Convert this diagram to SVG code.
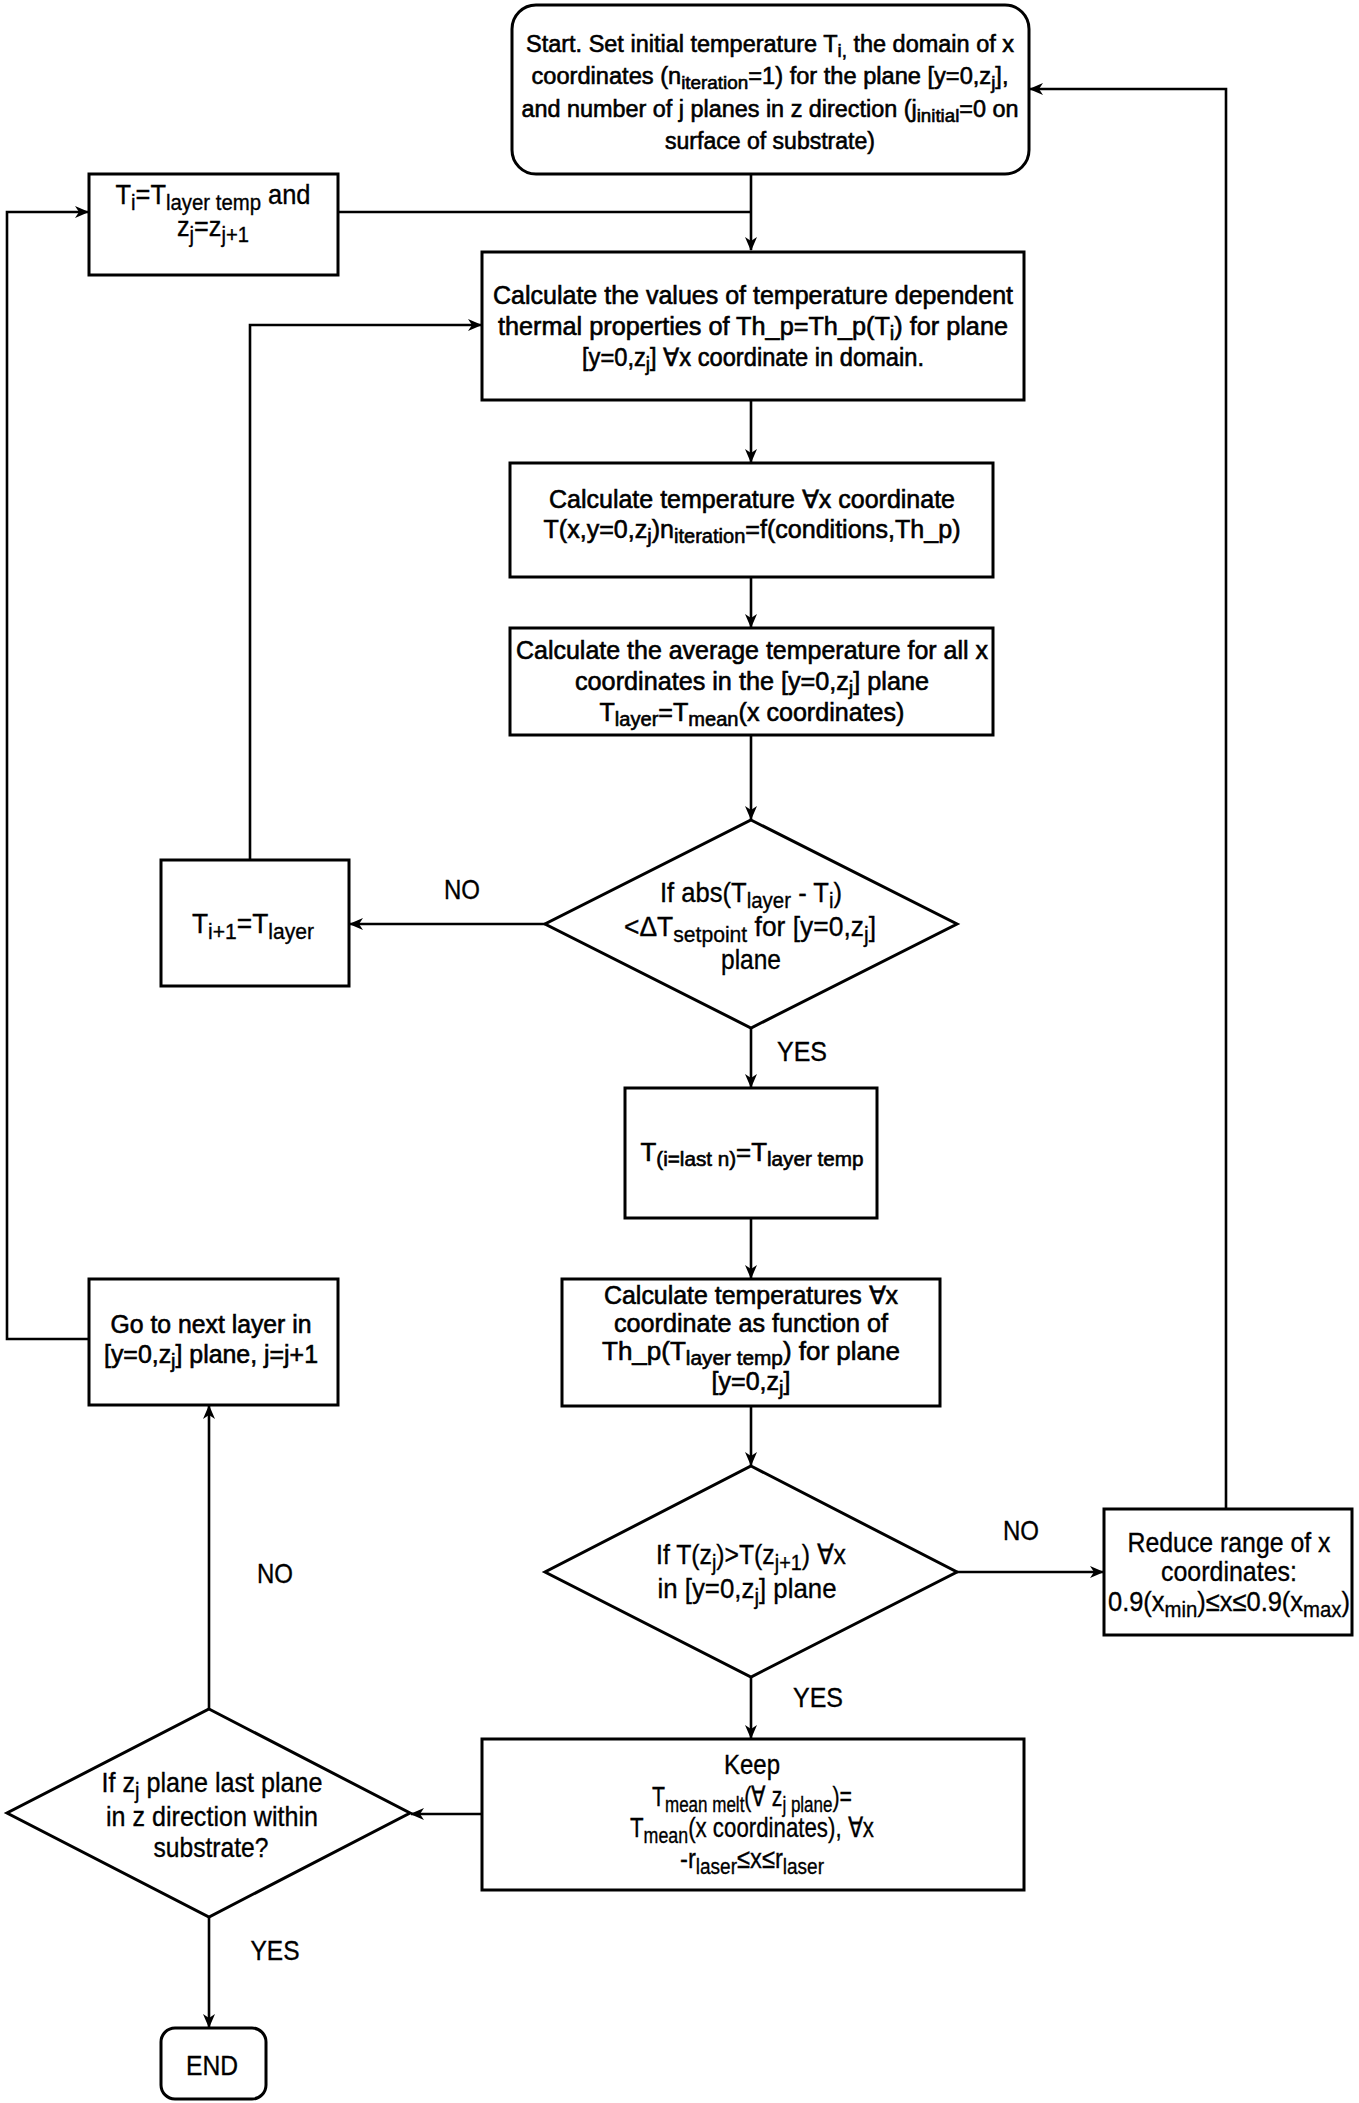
<svg xmlns="http://www.w3.org/2000/svg" width="1359" height="2103" viewBox="0 0 1359 2103">
<style>
.box{fill:#fff;stroke:#000;stroke-width:3}
.t{font-family:"Liberation Sans",Arial,sans-serif;font-size:25px;fill:#000;text-anchor:middle;stroke:#000;stroke-width:0.6}
.c{font-family:"Liberation Sans",Arial,sans-serif;font-size:28px;fill:#000;text-anchor:middle;stroke:#000;stroke-width:0.35}
.s{font-size:80%;baseline-shift:-25%}
.e{stroke:#000;stroke-width:2.6;fill:none}
</style>
<defs>
<marker id="ah" viewBox="0 0 14 12" refX="13" refY="6" markerWidth="14" markerHeight="12" markerUnits="userSpaceOnUse" orient="auto">
<path d="M0,0 L14,6 L0,12 L4,6 z" fill="#000"/>
</marker>
</defs>
<rect width="1359" height="2103" fill="#fff"/>
<g id="connectors">
<path class="e" d="M751,174 V250" marker-end="url(#ah)"/>
<path class="e" d="M338,212 H751"/>
<path class="e" d="M751,400 V462" marker-end="url(#ah)"/>
<path class="e" d="M751,577 V627" marker-end="url(#ah)"/>
<path class="e" d="M751,735 V819" marker-end="url(#ah)"/>
<path class="e" d="M545,924 H350" marker-end="url(#ah)"/>
<path class="e" d="M250,860 V325 H481" marker-end="url(#ah)"/>
<path class="e" d="M751,1028 V1087" marker-end="url(#ah)"/>
<path class="e" d="M751,1218 V1278" marker-end="url(#ah)"/>
<path class="e" d="M751,1406 V1465" marker-end="url(#ah)"/>
<path class="e" d="M957,1572 H1103" marker-end="url(#ah)"/>
<path class="e" d="M1226,1509 V89 H1030" marker-end="url(#ah)"/>
<path class="e" d="M751,1677 V1738" marker-end="url(#ah)"/>
<path class="e" d="M482,1814 H411" marker-end="url(#ah)"/>
<path class="e" d="M209,1709 V1406" marker-end="url(#ah)"/>
<path class="e" d="M89,1339 H7 V212 H88" marker-end="url(#ah)"/>
<path class="e" d="M209,1917 V2027" marker-end="url(#ah)"/>
<text class="c" x="462" y="899" textLength="36" lengthAdjust="spacingAndGlyphs">NO</text>
<text class="c" x="802" y="1061" textLength="50" lengthAdjust="spacingAndGlyphs">YES</text>
<text class="c" x="1021" y="1540" textLength="36" lengthAdjust="spacingAndGlyphs">NO</text>
<text class="c" x="818" y="1707" textLength="50" lengthAdjust="spacingAndGlyphs">YES</text>
<text class="c" x="275" y="1583" textLength="36" lengthAdjust="spacingAndGlyphs">NO</text>
<text class="c" x="275" y="1960" textLength="49" lengthAdjust="spacingAndGlyphs">YES</text>
</g>
<g id="start">
<rect class="box" x="512" y="5" width="517" height="169" rx="24"/>
<text class="t" x="770" y="52" style="font-size:23.5px" textLength="488" lengthAdjust="spacingAndGlyphs">Start. Set initial temperature T<tspan class="s">i,</tspan> the domain of x</text>
<text class="t" x="770" y="84" style="font-size:23.5px" textLength="477" lengthAdjust="spacingAndGlyphs">coordinates (n<tspan class="s">iteration</tspan>=1) for the plane [y=0,z<tspan class="s">j</tspan>],</text>
<text class="t" x="770" y="117" style="font-size:23.5px" textLength="497" lengthAdjust="spacingAndGlyphs">and number of j planes in z direction (j<tspan class="s">initial</tspan>=0 on</text>
<text class="t" x="770" y="149" style="font-size:23.5px" textLength="210" lengthAdjust="spacingAndGlyphs">surface of substrate)</text>
</g>
<g id="update-ti">
<rect class="box" x="89" y="174" width="249" height="101"/>
<text class="c" x="213" y="204" textLength="195" lengthAdjust="spacingAndGlyphs">T<tspan class="s">i</tspan>=T<tspan class="s">layer temp</tspan> and</text>
<text class="c" x="213" y="236" textLength="72" lengthAdjust="spacingAndGlyphs">z<tspan class="s">j</tspan>=z<tspan class="s">j+1</tspan></text>
</g>
<g id="calc-props">
<rect class="box" x="482" y="252" width="542" height="148"/>
<text class="t" x="753" y="304" textLength="520" lengthAdjust="spacingAndGlyphs">Calculate the values of temperature dependent</text>
<text class="t" x="753" y="335" textLength="510" lengthAdjust="spacingAndGlyphs">thermal properties of Th_p=Th_p(T<tspan class="s">i</tspan>) for plane</text>
<text class="t" x="753" y="366" textLength="342" lengthAdjust="spacingAndGlyphs">[y=0,z<tspan class="s">j</tspan>] ∀x coordinate in domain.</text>
</g>
<g id="calc-temp">
<rect class="box" x="510" y="463" width="483" height="114"/>
<text class="t" x="752" y="508" textLength="406" lengthAdjust="spacingAndGlyphs">Calculate temperature ∀x coordinate</text>
<text class="t" x="752" y="538" textLength="417" lengthAdjust="spacingAndGlyphs">T(x,y=0,z<tspan class="s">j</tspan>)n<tspan class="s">iteration</tspan>=f(conditions,Th_p)</text>
</g>
<g id="calc-avg">
<rect class="box" x="510" y="628" width="483" height="107"/>
<text class="t" x="752" y="659" textLength="472" lengthAdjust="spacingAndGlyphs">Calculate the average temperature for all x</text>
<text class="t" x="752" y="690" textLength="354" lengthAdjust="spacingAndGlyphs">coordinates in the [y=0,z<tspan class="s">j</tspan>] plane</text>
<text class="t" x="752" y="721" textLength="305" lengthAdjust="spacingAndGlyphs">T<tspan class="s">layer</tspan>=T<tspan class="s">mean</tspan>(x coordinates)</text>
</g>
<g id="check-conv">
<polygon class="box" points="751,820 957,924 751,1028 545,924"/>
<text class="c" x="751" y="902" textLength="182" lengthAdjust="spacingAndGlyphs">If abs(T<tspan class="s">layer</tspan> - T<tspan class="s">i</tspan>)</text>
<text class="c" x="750" y="936" textLength="252" lengthAdjust="spacingAndGlyphs">&lt;ΔT<tspan class="s">setpoint</tspan> for [y=0,z<tspan class="s">j</tspan>]</text>
<text class="c" x="751" y="969" textLength="60" lengthAdjust="spacingAndGlyphs">plane</text>
</g>
<g id="update-ti1">
<rect class="box" x="161" y="860" width="188" height="126"/>
<text class="c" x="253" y="933" textLength="122" lengthAdjust="spacingAndGlyphs">T<tspan class="s">i+1</tspan>=T<tspan class="s">layer</tspan></text>
</g>
<g id="set-layer-temp">
<rect class="box" x="625" y="1088" width="252" height="130"/>
<text class="t" x="752" y="1161" textLength="223" lengthAdjust="spacingAndGlyphs">T<tspan class="s">(i=last n)</tspan>=T<tspan class="s">layer temp</tspan></text>
</g>
<g id="calc-temps">
<rect class="box" x="562" y="1279" width="378" height="127"/>
<text class="t" x="751" y="1304" textLength="294" lengthAdjust="spacingAndGlyphs">Calculate temperatures ∀x</text>
<text class="t" x="751" y="1332" textLength="274" lengthAdjust="spacingAndGlyphs">coordinate as function of</text>
<text class="t" x="751" y="1360" textLength="298" lengthAdjust="spacingAndGlyphs">Th_p(T<tspan class="s">layer temp</tspan>) for plane</text>
<text class="t" x="751" y="1390">[y=0,z<tspan class="s">j</tspan>]</text>
</g>
<g id="check-profile">
<polygon class="box" points="751,1466 957,1572 751,1677 545,1572"/>
<text class="c" x="751" y="1564" textLength="190" lengthAdjust="spacingAndGlyphs">If T(z<tspan class="s">j</tspan>)&gt;T(z<tspan class="s">j+1</tspan>) ∀x</text>
<text class="c" x="747" y="1598" textLength="179" lengthAdjust="spacingAndGlyphs">in [y=0,z<tspan class="s">j</tspan>] plane</text>
</g>
<g id="reduce-range">
<rect class="box" x="1104" y="1509" width="248" height="126"/>
<text class="c" x="1229" y="1552" textLength="203" lengthAdjust="spacingAndGlyphs">Reduce range of x</text>
<text class="c" x="1229" y="1581" textLength="136" lengthAdjust="spacingAndGlyphs">coordinates:</text>
<text class="c" x="1229" y="1611" textLength="242" lengthAdjust="spacingAndGlyphs">0.9(x<tspan class="s">min</tspan>)≤x≤0.9(x<tspan class="s">max</tspan>)</text>
</g>
<g id="keep">
<rect class="box" x="482" y="1739" width="542" height="151"/>
<text class="c" x="752" y="1774" textLength="56" lengthAdjust="spacingAndGlyphs">Keep</text>
<text class="c" x="752" y="1806" textLength="200" lengthAdjust="spacingAndGlyphs">T<tspan class="s">mean melt</tspan>(∀ z<tspan class="s">j plane</tspan>)=</text>
<text class="c" x="752" y="1837" textLength="244" lengthAdjust="spacingAndGlyphs">T<tspan class="s">mean</tspan>(x coordinates), ∀x</text>
<text class="c" x="752" y="1868" textLength="144" lengthAdjust="spacingAndGlyphs">-r<tspan class="s">laser</tspan>≤x≤r<tspan class="s">laser</tspan></text>
</g>
<g id="check-last">
<polygon class="box" points="209,1709 410,1813 209,1917 7,1813"/>
<text class="c" x="212" y="1792" textLength="221" lengthAdjust="spacingAndGlyphs">If z<tspan class="s">j</tspan> plane last plane</text>
<text class="c" x="212" y="1826" textLength="212" lengthAdjust="spacingAndGlyphs">in z direction within</text>
<text class="c" x="211" y="1857" textLength="115" lengthAdjust="spacingAndGlyphs">substrate?</text>
</g>
<g id="next-layer">
<rect class="box" x="89" y="1279" width="249" height="126"/>
<text class="t" x="211" y="1333" textLength="201" lengthAdjust="spacingAndGlyphs">Go to next layer in</text>
<text class="t" x="211" y="1363" textLength="214" lengthAdjust="spacingAndGlyphs">[y=0,z<tspan class="s">j</tspan>] plane, j=j+1</text>
</g>
<g id="end">
<rect class="box" x="161" y="2028" width="105" height="71" rx="14"/>
<text class="c" x="212" y="2075" textLength="52" lengthAdjust="spacingAndGlyphs">END</text>
</g>
</svg>
